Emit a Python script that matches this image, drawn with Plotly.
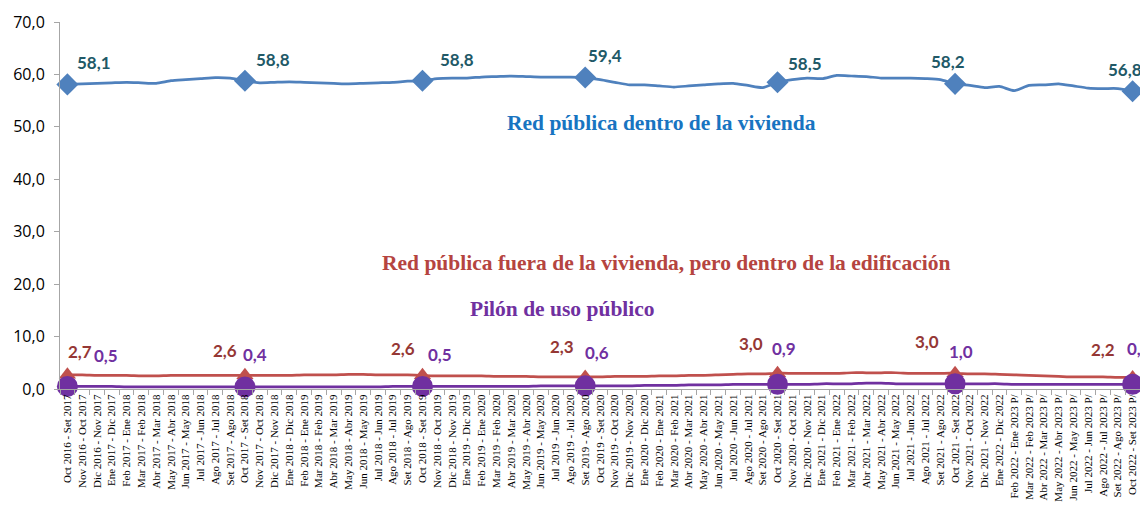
import plotly.graph_objects as go

MONTHS = ["Ene", "Feb", "Mar", "Abr", "May", "Jun", "Jul", "Ago", "Set", "Oct", "Nov", "Dic"]

# Rolling 12-month periods: Oct 2016 - Set 2017 ... Oct 2022 - Set 2023 P/
categories = []
for k in range(73):
    m0 = 9 + k
    y0, mi0 = 2016 + m0 // 12, m0 % 12
    m1 = m0 + 11
    y1, mi1 = 2016 + m1 // 12, m1 % 12
    lab = f"{MONTHS[mi0]} {y0} - {MONTHS[mi1]} {y1}"
    if y1 == 2023:
        lab += " P/"
    categories.append(lab)

red_dentro = [58.1, 58.2, 58.3, 58.4, 58.5, 58.4, 58.3, 58.8, 59.0, 59.2, 59.4, 59.3, 58.8,
              58.4, 58.5, 58.6, 58.5, 58.4, 58.3, 58.2, 58.3, 58.4, 58.5, 58.7, 58.8,
              59.2, 59.3, 59.3, 59.5, 59.6, 59.7, 59.6, 59.5, 59.5, 59.5, 59.4,
              59.0, 58.5, 58.0, 58.0, 57.8, 57.6, 57.8, 58.0, 58.2, 58.3, 57.9, 57.5, 58.5,
              59.0, 59.3, 59.2, 59.8, 59.7, 59.6, 59.3, 59.3, 59.3, 59.2, 59.0, 58.2,
              57.9, 57.5, 57.7, 56.9, 57.9, 58.0, 58.2, 57.8, 57.4, 57.3, 57.3, 56.8]

red_fuera = [2.7, 2.7, 2.6, 2.6, 2.6, 2.5, 2.5, 2.6, 2.6, 2.6, 2.6, 2.6, 2.6,
             2.6, 2.6, 2.6, 2.7, 2.7, 2.7, 2.8, 2.8, 2.7, 2.7, 2.7, 2.6,
             2.5, 2.5, 2.5, 2.5, 2.4, 2.4, 2.4, 2.3, 2.3, 2.3, 2.3,
             2.3, 2.4, 2.4, 2.4, 2.5, 2.5, 2.6, 2.6, 2.7, 2.8, 2.9, 2.9, 3.0,
             3.0, 3.0, 3.0, 3.0, 3.1, 3.1, 3.1, 3.1, 3.0, 3.0, 3.0, 3.0,
             2.9, 2.9, 2.8, 2.7, 2.6, 2.5, 2.4, 2.3, 2.3, 2.3, 2.2, 2.2]

pilon = [0.5, 0.5, 0.5, 0.5, 0.4, 0.4, 0.4, 0.4, 0.4, 0.4, 0.4, 0.4, 0.4,
         0.4, 0.4, 0.4, 0.4, 0.4, 0.4, 0.4, 0.4, 0.4, 0.5, 0.5, 0.5,
         0.5, 0.5, 0.5, 0.5, 0.5, 0.5, 0.5, 0.6, 0.6, 0.6, 0.6,
         0.6, 0.6, 0.6, 0.7, 0.7, 0.7, 0.8, 0.8, 0.8, 0.9, 0.9, 0.9, 0.9,
         0.9, 0.9, 1.0, 1.0, 1.0, 1.1, 1.1, 1.0, 1.0, 1.0, 1.0, 1.0,
         1.0, 1.0, 1.0, 0.9, 0.9, 0.9, 0.9, 0.9, 0.9, 0.9, 0.9, 0.9]

marker_idx = [0, 12, 24, 35, 48, 60, 72]

series_names = ["Red pública dentro de la vivienda",
                "Red pública fuera de la vivienda, pero dentro de la edificación",
                "Pilón de uso público"]

BLUE, RED, PURPLE = "#4F81BD", "#C0504D", "#7030A0"

fig = go.Figure()
specs = [
    (red_dentro, BLUE, "diamond", 17),
    (red_fuera, RED, "triangle-up", 15),
    (pilon, PURPLE, "circle", 21),
]
for vals, col, sym, size in specs:
    fig.add_trace(go.Scatter(x=categories, y=vals, mode="lines",
                             line=dict(color=col, width=2.75, shape="spline", smoothing=0.6),
                             showlegend=False, hoverinfo="skip", cliponaxis=False))
for vals, col, sym, size in specs:
    fig.add_trace(go.Scatter(x=[categories[i] for i in marker_idx],
                             y=[vals[i] for i in marker_idx], mode="markers",
                             marker=dict(color=col, symbol=sym, size=size),
                             showlegend=False, hoverinfo="skip", cliponaxis=False))

def fmt(v):
    return f"{v:.1f}".replace(".", ",")

label_cols = ["#215967", "#953735", "#7030A0"]
shifts = [
    [(27, 22), (28, 21), (35, 21), (20, 22), (27, 19), (-7, 22), (-8, 22)],
    [(13, 23), (-20, 25), (-19, 27), (-23, 30), (-27, 30), (-28, 32), (-30, 28)],
    [(39, 31), (10, 32), (18, 32), (12, 33), (6, 36), (6, 32), (6, 36)],
]
for s, vals in enumerate([red_dentro, red_fuera, pilon]):
    for j, i in enumerate(marker_idx):
        dx, dy = shifts[s][j]
        fig.add_annotation(x=categories[i], y=vals[i], text=fmt(vals[i]), showarrow=False,
                           xshift=dx, yshift=dy,
                           font=dict(family="Lato", size=17, color=label_cols[s], weight="bold"))

name_pos = [(0.557, 50.7, "#1874C1"), (0.561, 24.0, "#B54440"), (0.465, 15.3, "#7030A0")]
for name, (xp, yp, col) in zip(series_names, name_pos):
    fig.add_annotation(xref="paper", x=xp, y=yp, text=f"<b>{name}</b>", showarrow=False,
                       font=dict(family="Liberation Serif", size=21.5, color=col))

fig.update_layout(
    width=1148, height=507,
    margin=dict(l=52, r=16, t=14, b=126),
    paper_bgcolor="white", plot_bgcolor="white",
    separators=",.",
    xaxis=dict(type="category", range=[-0.5, 72.5], showgrid=False, automargin=False,
               showline=True, linecolor="#A6A6A6", linewidth=1,
               ticks="outside", tickson="boundaries", ticklen=5, tickcolor="#A6A6A6",
               tickangle=-90, tickfont=dict(family="Liberation Serif", size=11, color="black")),
    yaxis=dict(range=[0, 70], dtick=10, tickformat=".1f", showgrid=False, automargin=False,
               showline=True, linecolor="#A6A6A6", linewidth=1,
               ticks="outside", ticklen=5, tickcolor="#A6A6A6", zeroline=False,
               ticklabelstandoff=6,
               tickfont=dict(family="Open Sans", size=16, color="black")),
)

fig.write_html("out.html")
